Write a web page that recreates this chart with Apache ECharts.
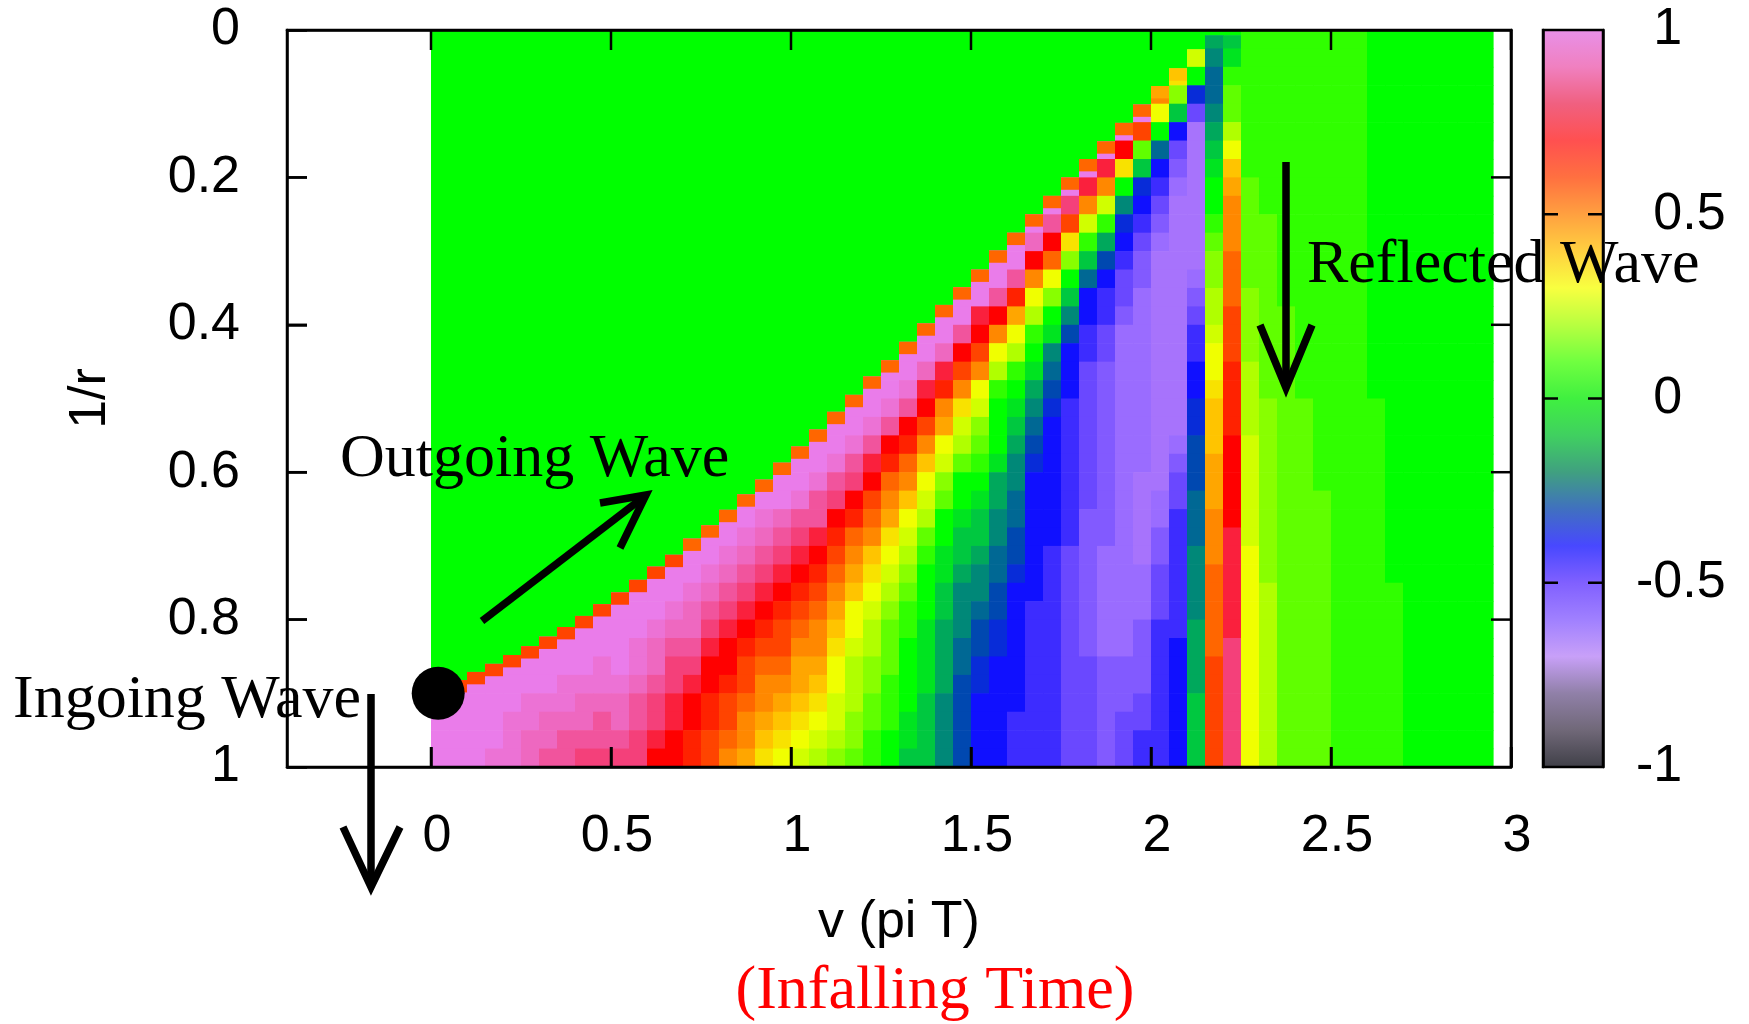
<!DOCTYPE html>
<html>
<head>
<meta charset="utf-8">
<script src="https://cdn.jsdelivr.net/npm/echarts/dist/echarts.min.js"></script>
<style>
  html, body { margin: 0; padding: 0; background: #fff; }
  #chart { width: 1749px; height: 1024px; }
</style>
</head>
<body>
<div id="chart"></div>
<script>
// column edges in v (pi T)
var vEdges = [0, 0.05, 0.1, 0.15, 0.2, 0.25, 0.3, 0.35, 0.4, 0.45,
  0.5, 0.55, 0.6, 0.65, 0.7, 0.75, 0.8, 0.85, 0.9, 0.95,
  1, 1.05, 1.1, 1.15, 1.2, 1.25, 1.3, 1.35, 1.4, 1.45,
  1.5, 1.55, 1.6, 1.65, 1.7, 1.75, 1.8, 1.85, 1.9, 1.95,
  2, 2.05, 2.1, 2.15, 2.2, 2.25, 2.3, 2.35, 2.4, 2.45,
  2.5, 2.55, 2.6, 2.65, 2.7, 2.75, 2.8, 2.85, 2.9, 2.95];

// row edges in 1/r
var rEdges = [0, 0.025, 0.05, 0.075, 0.1, 0.125, 0.15, 0.175, 0.2, 0.225,
  0.25, 0.275, 0.3, 0.325, 0.35, 0.375, 0.4, 0.425, 0.45, 0.475,
  0.5, 0.525, 0.55, 0.575, 0.6, 0.625, 0.65, 0.675, 0.7, 0.725,
  0.75, 0.775, 0.8, 0.825, 0.85, 0.875, 0.9, 0.925, 0.95, 0.975, 1];

// 1/r where the outgoing front reaches each column
var fronts = [0.89, 0.882, 0.871, 0.86, 0.848, 0.836, 0.823, 0.81, 0.795, 0.779,
  0.763, 0.746, 0.728, 0.712, 0.69, 0.672, 0.651, 0.63, 0.61, 0.587,
  0.565, 0.542, 0.518, 0.495, 0.47, 0.448, 0.423, 0.398, 0.373, 0.349,
  0.325, 0.299, 0.275, 0.25, 0.225, 0.2, 0.175, 0.151, 0.126, 0.101,
  0.076, 0.052, 0.026, 0.007, 0.007, 0, 0, 0, 0, 0,
  0, 0, 0, 0, 0, 0, 0, 0, 0];

// value on the thin front edge of each column ('.' = none)
var frontCodes = 'gggggggggggggg' + 'ffffffffffffffffffffffffff' + 'dc' + '.................';
var FRONT_DEPTH = 0.016;

// value codes: 'A' = -1 ... 'U' = 0 ... 'o' = 1, step 0.05
var CODES = 'ABCDEFGHIJKLMNOPQRSTUVWXYZabcdefghijklmno';

// column profiles read downwards, last letter is the row at 1/r = 1
var columns = [
  'ooooo', 'ooooo', 'oooooo', 'ooooon', 'oooonnn',
  'ooonnmm', 'oooonmml', 'ooonnmll', 'oooonmmlk', 'ooonnmllk',
  'ooooonmmlk', 'oooonnmllkk', 'ooonmmlkkji', 'ooonmlkkjjii', 'ooonmmlkjiihh',
  'ooonmlkjiihhgg', 'oonmlkjiihggfe', 'oonmlkjihggfeed', 'oonmlkjihgfeedcb', 'ooomlkjihggfedcba',
  'ooonlkjihgfeddcbaZ', 'ooonlljihgfeedcbaZY', 'ooonlkihgfedcbaaZZYX', 'ooonlkihfedcaaZYYYXXW', 'ooonljigfecbaZYYXXWWVV',
  'ooonlihfedbaZYXWWWVVVUU', 'ooonlihfecaZYXWVVUUUUTTS', 'ooomjigecaZYWVUUUTTTTSSSS', 'ooomjhedaZXWUUTTSSRRRRQQQQ', 'oooligebZYWUUTSSRQQQPPOOOOO',
  'oojigeaZXWVUTSSRQQPOONNMMMM', 'ooolieaYVUUUTRRQQPPOONNMMMMMM', 'oolhdaYVUTSRQQPPOONMMMMMMMLLL', 'omieaYVUTRQPONMMMMMMMLLLLLLLLL', 'olifaXUTQPONMMMMMMMLLLLLLLLLLLL',
  'okgbXUSQOMMMLLLLLLLLKKKKKKKKKKKK', 'ojeZVSPMMLLKKKKKKKKJJJJJJJJKKKKKK', 'ojeZVROMLLKKJJJJJJJJJJIIIIIIJJJJJJ', 'oibUQNMLKKJIIIIIIIIIIIIIIIIIIJJJKKK', 'ogWSNMLKJJIIIIIIIIIIHHHHHIIIJJJJKKLL',
  'eaUPMLKJIHHHHHHHHHHHHHIIJJKKKLLLLLLLL', 'bXSMKJIHHHHHHHHHHHHHIJKKLLLLLLLMMMMMMM', 'ZUNKHHHHHHHHIJKLLMMNNOOOPPPQQQQRRRRSSSS',
  'RQPPQRSTUUVWXXYYZaabcccdddeeefffffgggggg',
  'STVWWYacdeeefffggghhhhiiiiijjjjjjkkkkkkk',
  'VVVVVVVVWWWWWWXXXXYYYYZZZZZZaaaaaaaaaaaa',
  'VVVVVVVVVVWWWWWWWWWWXXXXXXXXXXYYYYYYYYYY',
  'VVVVVVVVVV' + 'VVVVVWWWWW' + 'WWWWWWWWWW' + 'WWWWWWWWWW',
  'VVVVVVVVVV' + 'VVVVVVVVVV' + 'WWWWWWWWWW' + 'WWWWWWWWWW',
  'VVVVVVVVVV' + 'VVVVVVVVVV' + 'VVVVVWWWWW' + 'WWWWWWWWWW',
  'VVVVVVVVVV' + 'VVVVVVVVVV' + 'VVVVVVVVVV' + 'VVVVVVVVVV',
  'VVVVVVVVVV' + 'VVVVVVVVVV' + 'VVVVVVVVVV' + 'VVVVVVVVVV',
  'UUUUUUUUUU' + 'UUUUUUUUUU' + 'VVVVVVVVVV' + 'VVVVVVVVVV',
  'UUUUUUUUUU' + 'UUUUUUUUUU' + 'UUUUUUUUUU' + 'VVVVVVVVVV',
  'UUUUUUUUUU' + 'UUUUUUUUUU' + 'UUUUUUUUUU' + 'UUUUUUUUUU',
  'UUUUUUUUUU' + 'UUUUUUUUUU' + 'UUUUUUUUUU' + 'UUUUUUUUUU',
  'UUUUUUUUUU' + 'UUUUUUUUUU' + 'UUUUUUUUUU' + 'UUUUUUUUUU',
  'UUUUUUUUUU' + 'UUUUUUUUUU' + 'UUUUUUUUUU' + 'UUUUUUUUUU',
  'UUUUUUUUUU' + 'UUUUUUUUUU' + 'UUUUUUUUUU' + 'UUUUUUUUUU'
];

var vTicks = [0, 0.5, 1, 1.5, 2, 2.5, 3];
var rTicks = [0.2, 0.4, 0.6, 0.8];
var cbTicks = [-0.5, 0, 0.5];
var dotPoint = [[0.02, 0.9]];
var cbRange = [-1, 1];

// palette of the map, and the paler one gnuplot drew in the colour box
var palette = ['#000010', '#3a3050', '#6a5890', '#b47af8', '#9a6cff', '#6a48ff', '#1010ff',
  '#0048b0', '#008878', '#00c840', '#00ff00', '#60ff00', '#b0ff00', '#f0ff00',
  '#ffc400', '#ff8800', '#ff4400', '#ff0000', '#f4407a', '#ee68c0', '#ea7cea'];
var boxPalette = ['#404048', '#706878', '#9080a8', '#c8a0f8', '#a080ff', '#8060ff', '#4848ff',
  '#4070c0', '#40a080', '#40d060', '#40f040', '#70ff40', '#b8ff40', '#f8ff40',
  '#ffd040', '#ffa040', '#ff7040', '#ff5050', '#f06080', '#f080c0', '#e890e8'];

var SANS = '"Liberation Sans", Arial, sans-serif';
var SERIF = '"Liberation Serif", "Times New Roman", serif';
var TICK = 20;
var CB_TICK = 15;

function codeValue(ch){
  return (CODES.indexOf(ch) - 20) / 20;
}

function makeCells(){
  var cells = [];
  columns.forEach(function(col, j){
    var v0 = vEdges[j];
    var v1 = j + 1 < vEdges.length ? vEdges[j + 1] : v0 + (v0 - vEdges[j - 1]);
    var front = fronts[j];
    var firstRow = rEdges.length - 1 - col.length;
    if(front > 0){
      cells.push([v0, v1, 0, front, 0]);
    }
    for(var k = 0; k < col.length; k++){
      var i = firstRow + k;
      var top = k === 0 ? front : Math.max(rEdges[i], front);
      cells.push([v0, v1, top, rEdges[i + 1], codeValue(col[k])]);
    }
    if(frontCodes[j] !== '.'){
      cells.push([v0, v1, front, Math.min(front + FRONT_DEPTH, 1), codeValue(frontCodes[j])]);
    }
  });
  return cells;
}

function renderCell(params, api){
  var a = api.coord([api.value(0), api.value(2)]);
  var b = api.coord([api.value(1), api.value(3)]);
  return {
    type: 'rect',
    shape: { x: a[0], y: a[1], width: b[0] - a[0] + 0.6, height: b[1] - a[1] + 0.6 },
    style: { fill: api.visual('color') }
  };
}

// the colour box: one rect over the whole scale, filled top (max) to bottom (min)
function renderColorBox(params, api){
  var a = api.coord([0, api.value(1)]);
  var b = api.coord([1, api.value(0)]);
  var n = boxPalette.length;
  var stops = boxPalette.map(function(c, i){
    return { offset: 1 - i / (n - 1), color: c };
  }).reverse();
  return {
    type: 'rect',
    shape: { x: a[0], y: a[1], width: b[0] - a[0], height: b[1] - a[1] },
    style: { fill: { type: 'linear', x: 0, y: 0, x2: 0, y2: 1, colorStops: stops } }
  };
}

var tickLine = { stroke: '#000', lineWidth: 2.5 };

function tickPair(p, q){
  return {
    type: 'group',
    children: [
      { type: 'line', shape: { x1: p[0], y1: p[1], x2: p[2], y2: p[3] }, style: tickLine },
      { type: 'line', shape: { x1: q[0], y1: q[1], x2: q[2], y2: q[3] }, style: tickLine }
    ]
  };
}

// mirrored inward ticks on all four sides of the map
function renderFrameTick(params, api){
  var cs = params.coordSys;
  var val = api.value(1);
  if(api.value(0) === 0){
    var x = api.coord([val, 0])[0];
    return tickPair([x, cs.y, x, cs.y + TICK], [x, cs.y + cs.height, x, cs.y + cs.height - TICK]);
  }
  var y = api.coord([0, val])[1];
  return tickPair([cs.x, y, cs.x + TICK, y], [cs.x + cs.width, y, cs.x + cs.width - TICK, y]);
}

function renderBoxTick(params, api){
  var cs = params.coordSys;
  var y = api.coord([0, api.value(0)])[1];
  return tickPair([cs.x, y, cs.x + CB_TICK, y], [cs.x + cs.width, y, cs.x + cs.width - CB_TICK, y]);
}

function arrow(points){
  return {
    type: 'polyline',
    z: 20,
    shape: { points: points },
    style: { stroke: '#000', lineWidth: 7.5, fill: null, lineJoin: 'miter' },
    silent: true
  };
}

function label(text, x, y, align, color){
  return {
    type: 'text',
    z: 20,
    x: x,
    y: y,
    style: {
      text: text,
      font: '62px ' + SERIF,
      fill: color || '#000',
      align: align || 'left',
      verticalAlign: 'middle'
    },
    silent: true
  };
}

var tickStyle = { color: '#000', width: 2.5 };
var lineStyle = { show: true, onZero: false, lineStyle: tickStyle };
var labelFont = { color: '#000', fontSize: 52, fontFamily: SANS };

var frameTicks = vTicks.map(function(v){ return [0, v]; })
  .concat(rTicks.map(function(r){ return [1, r]; }));

var option = {
  backgroundColor: '#fff',
  animation: false,
  grid: [
    { left: 287, top: 30, width: 1224, height: 737, show: true, z: 10,
      borderColor: '#000', borderWidth: 2.5, backgroundColor: 'transparent' },
    { left: 1543, top: 30, width: 60, height: 737, show: true, z: 10,
      borderColor: '#000', borderWidth: 2.5, backgroundColor: 'transparent' }
  ],
  xAxis: [
    {
      gridIndex: 0, type: 'value', min: -0.4, max: 3, position: 'bottom', z: 10,
      axisLine: lineStyle,
      axisTick: { inside: true, length: TICK, lineStyle: tickStyle, customValues: vTicks },
      axisLabel: Object.assign({ margin: 44, padding: [0, 0, 0, 12], customValues: vTicks }, labelFont),
      splitLine: { show: false },
      name: 'v (pi T)', nameLocation: 'middle', nameGap: 130,
      nameTextStyle: labelFont
    },
    {
      gridIndex: 0, type: 'value', min: -0.4, max: 3, position: 'top', z: 10,
      axisLine: lineStyle,
      axisTick: { show: false },
      axisLabel: { show: false },
      splitLine: { show: false }
    },
    { gridIndex: 1, type: 'value', min: 0, max: 1, show: false }
  ],
  yAxis: [
    {
      gridIndex: 0, type: 'value', min: 0, max: 1, interval: 0.2, inverse: true, position: 'left', z: 10,
      axisLine: lineStyle,
      axisTick: { inside: true, length: TICK, lineStyle: tickStyle },
      axisLabel: Object.assign({ margin: 47 }, labelFont),
      splitLine: { show: false },
      name: '1/r', nameLocation: 'middle', nameGap: 170, nameRotate: 90,
      nameTextStyle: labelFont
    },
    {
      gridIndex: 0, type: 'value', min: 0, max: 1, interval: 0.2, inverse: true, position: 'right', z: 10,
      axisLine: lineStyle,
      axisTick: { show: false },
      axisLabel: { show: false },
      splitLine: { show: false }
    },
    {
      gridIndex: 1, type: 'value', min: cbRange[0], max: cbRange[1], interval: 0.5, position: 'right', z: 10,
      axisLine: lineStyle,
      axisTick: { show: false },
      axisLabel: Object.assign({
        margin: 33,
        formatter: function(v){
          return v < 0 ? String(v) : '{h|-}' + v;
        },
        rich: { h: { color: 'rgba(0,0,0,0)', fontSize: 52, fontFamily: SANS } }
      }, labelFont),
      splitLine: { show: false }
    },
    {
      gridIndex: 1, type: 'value', min: cbRange[0], max: cbRange[1], interval: 0.5, position: 'left', z: 10,
      axisLine: lineStyle,
      axisTick: { show: false },
      axisLabel: { show: false },
      splitLine: { show: false }
    }
  ],
  visualMap: {
    type: 'continuous',
    show: false,
    seriesIndex: 0,
    dimension: 4,
    min: cbRange[0],
    max: cbRange[1],
    inRange: { color: palette }
  },
  series: [
    {
      type: 'custom',
      xAxisIndex: 0,
      yAxisIndex: 0,
      data: makeCells(),
      encode: { x: [0, 1], y: [2, 3] },
      renderItem: renderCell,
      progressive: 0,
      silent: true,
      z: -2
    },
    {
      type: 'scatter',
      xAxisIndex: 0,
      yAxisIndex: 0,
      data: dotPoint,
      symbolSize: 53,
      itemStyle: { color: '#000', opacity: 1 },
      silent: true,
      z: 5
    },
    {
      type: 'custom',
      xAxisIndex: 2,
      yAxisIndex: 2,
      data: [cbRange],
      encode: { y: [0, 1] },
      renderItem: renderColorBox,
      silent: true,
      z: -2
    },
    {
      type: 'custom',
      xAxisIndex: 0,
      yAxisIndex: 0,
      data: frameTicks,
      renderItem: renderFrameTick,
      silent: true,
      z: 8
    },
    {
      type: 'custom',
      xAxisIndex: 2,
      yAxisIndex: 2,
      data: cbTicks.map(function(c){ return [c]; }),
      encode: { y: 0 },
      renderItem: renderBoxTick,
      silent: true,
      z: 8
    }
  ],
  graphic: [
    label('Outgoing Wave', 340, 460),
    label('Ingoing Wave', 13, 701),
    label('Reflected Wave', 1307, 266),
    label('(Infalling Time)', 935, 992, 'center', '#ff0000'),
    arrow([[482, 621], [645, 496]]),
    arrow([[600, 503], [646, 495], [620, 548]]),
    arrow([[371, 694], [371, 885]]),
    arrow([[343, 827], [371, 887], [400, 827]]),
    arrow([[1286, 162], [1286, 386]]),
    arrow([[1260, 325], [1286, 388], [1312, 325]])
  ]
};

var chart = echarts.init(document.getElementById('chart'), null, { renderer: 'canvas' });
chart.setOption(option);
</script>
</body>
</html>
